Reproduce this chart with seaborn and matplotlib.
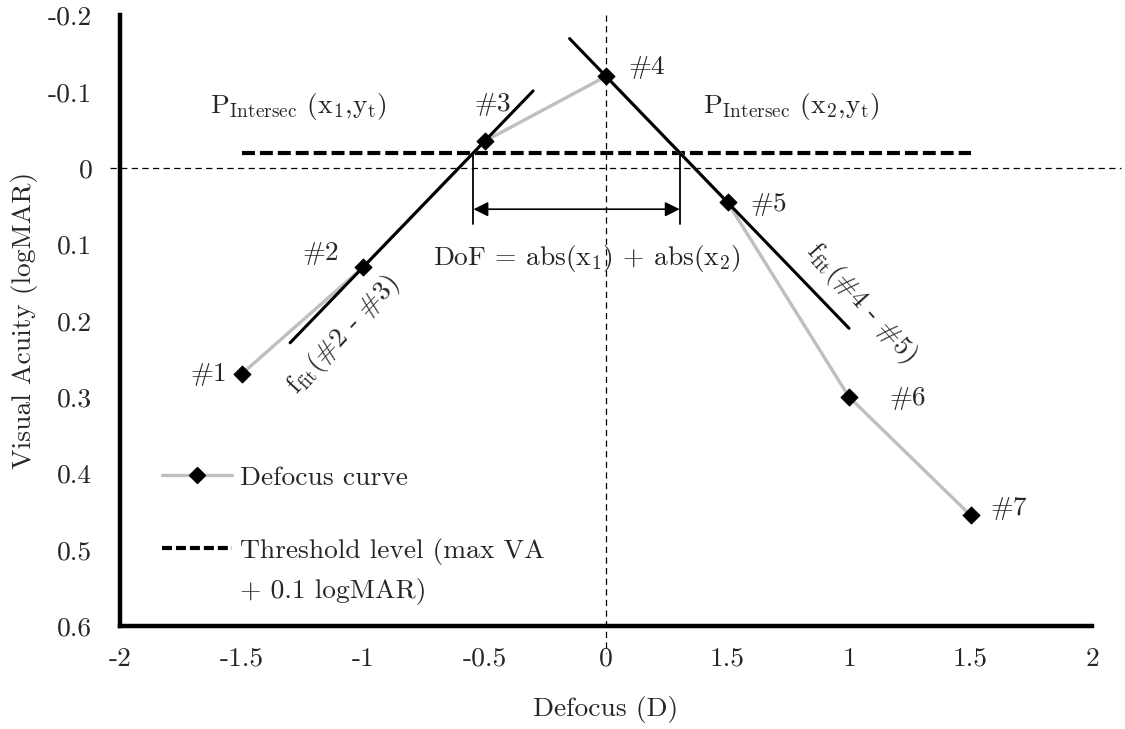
import numpy as np
import pandas as pd
import matplotlib
matplotlib.use("Agg")
import matplotlib.pyplot as plt
from matplotlib.lines import Line2D
import seaborn as sns

# Defocus curve measurements
defocus = [-1.5, -1.0, -0.5, 0.0, 0.5, 1.0, 1.5]
visual_acuity = [0.27, 0.13, -0.035, -0.12, 0.045, 0.30, 0.455]
point_labels = ["#1", "#2", "#3", "#4", "#5", "#6", "#7"]

# Axis tick labels
x_ticks = [-2, -1.5, -1, -0.5, 0, 0.5, 1, 1.5, 2]
x_tick_labels = ["-2", "-1.5", "-1", "-0.5", "0", "1.5", "1", "1.5", "2"]
y_ticks = [-0.2, -0.1, 0, 0.1, 0.2, 0.3, 0.4, 0.5, 0.6]
y_tick_labels = ["-0.2", "-0.1", "0", "0.1", "0.2", "0.3", "0.4", "0.5", "0.6"]

# Threshold offset above the best acuity (logMAR)
threshold_offset = 0.1

sns.set_theme(style="white")
plt.rcParams["font.family"] = ["cmr10", "DejaVu Serif"]
plt.rcParams["mathtext.fontset"] = "cm"
plt.rcParams["axes.formatter.use_mathtext"] = True
plt.rcParams["axes.unicode_minus"] = False

FS = 19.8
GRAY = "#bfbfbf"

fig = plt.figure(figsize=(11.25, 7.29), dpi=100)
ax = fig.add_axes([0.1067, 0.1413, 0.864, 0.8377])

df = pd.DataFrame({"defocus": defocus, "va": visual_acuity})

# Reference lines through zero
ax.plot([0, 0], [-0.2, 0.635], color="black", lw=0.9, ls=(0, (5, 3.5)),
        clip_on=False, zorder=1)
ax.plot([-2.04, 2.12], [0, 0], color="black", lw=0.9, ls=(0, (5, 3.5)),
        clip_on=False, zorder=1)

# Threshold level
threshold = min(visual_acuity) + threshold_offset
ax.plot([-1.5, 1.5], [threshold, threshold], color="black", lw=3.0,
        ls=(0, (3.1, 1.2)), zorder=2)

# Defocus curve (line below the fits, markers on top)
sns.lineplot(data=df, x="defocus", y="va", ax=ax, color=GRAY, lw=2.4,
             zorder=2.5, legend=False)
sns.scatterplot(data=df, x="defocus", y="va", ax=ax, marker="D", s=75,
                color="black", edgecolor="black", zorder=5, legend=False)

# Axes
ax.set_xlim(-2, 2)
ax.set_ylim(0.6, -0.2)
ax.set_xticks(x_ticks)
ax.set_xticklabels(x_tick_labels, fontsize=FS)
ax.set_yticks(y_ticks)
ax.set_yticklabels(y_tick_labels, fontsize=FS)
ax.tick_params(axis="both", length=0)
ax.tick_params(axis="x", pad=15)
ax.tick_params(axis="y", pad=20)
ax.set_xlabel("Defocus (D)", fontsize=FS, labelpad=18)
ax.set_ylabel("Visual Acuity (logMAR)", fontsize=FS, labelpad=7)
sns.despine(ax=ax)
for side in ("left", "bottom"):
    ax.spines[side].set_linewidth(3.2)
    ax.spines[side].set_color("black")
ax.grid(False)

# Linear fits through neighbouring points
x = np.array(defocus)
y = np.array(visual_acuity)
fit_left = np.polyfit(x[1:3], y[1:3], 1)
fit_right = np.polyfit(x[3:5], y[3:5], 1)
xl = np.array([-1.3, -0.3])
xr = np.array([-0.15, 1.0])
ax.plot(xl, np.polyval(fit_left, xl), color="black", lw=2.2, zorder=3)
ax.plot(xr, np.polyval(fit_right, xr), color="black", lw=2.2, zorder=3)

# Intersections with the threshold level
x1 = (threshold - fit_left[1]) / fit_left[0]
x2 = (threshold - fit_right[1]) / fit_right[0]
for xi in (x1, x2):
    ax.plot([xi, xi], [threshold, 0.073], color="black", lw=1.3, zorder=3)
ax.annotate("", xy=(x2, 0.054), xytext=(x1, 0.054),
            arrowprops=dict(arrowstyle="<|-|>", color="black", lw=1.2,
                            mutation_scale=22, shrinkA=0, shrinkB=0))

# Point labels
offsets = [(-14, 0, "right"), (-24, 14, "right"), (-10, 37, "left"),
           (22, 9, "left"), (23, -2, "left"), (40, -1, "left"), (20, 7, "left")]
for xi, yi, lab, (dx, dy, ha) in zip(defocus, visual_acuity, point_labels, offsets):
    ax.annotate(lab, (xi, yi), xytext=(dx, dy), textcoords="offset pixels",
                ha=ha, va="center", fontsize=FS)

# Text annotations
ax.text(-1.63, -0.072, r"P$_{\mathrm{Intersec}}$ (x$_1$,y$_\mathrm{t}$)",
        fontsize=FS, ha="left", va="baseline")
ax.text(0.4, -0.072, r"P$_{\mathrm{Intersec}}$ (x$_2$,y$_\mathrm{t}$)",
        fontsize=FS, ha="left", va="baseline")
ax.text(-0.08, 0.118, r"DoF = abs(x$_1$) + abs(x$_2$)", fontsize=FS,
        ha="center", va="center")
ax.text(-1.082, 0.219, r"f$_{\mathrm{fit}}$(#2 - #3)", fontsize=FS,
        ha="center", va="center", rotation=47, rotation_mode="anchor")
ax.text(1.049, 0.177, r"f$_{\mathrm{fit}}$(#4 - #5)", fontsize=FS,
        ha="center", va="center", rotation=-48, rotation_mode="anchor")

# Legend
handles = [
    Line2D([], [], color=GRAY, lw=2.4, marker="D", markersize=8,
           markerfacecolor="black", markeredgecolor="black"),
    Line2D([], [], color="black", lw=3.0, ls=(0, (2.4, 0.95))),
]
leg = ax.legend(handles, ["Defocus curve", "Threshold level (max VA"],
                loc="upper left", bbox_to_anchor=(-1.827, 0.39),
                bbox_transform=ax.transData, frameon=False, fontsize=FS,
                handlelength=2.55, handletextpad=0.3, labelspacing=1.75,
                borderpad=0, borderaxespad=0)
fig.canvas.draw()
t2 = leg.get_texts()[1]
bb = t2.get_window_extent(fig.canvas.get_renderer())
x0, y0 = ax.transAxes.inverted().transform((bb.x0, bb.y0))
ax.text(x0, y0 - 0.02, "+ 0.1 logMAR)", transform=ax.transAxes,
        fontsize=FS, ha="left", va="top")

fig.savefig("out.png", dpi=100)
